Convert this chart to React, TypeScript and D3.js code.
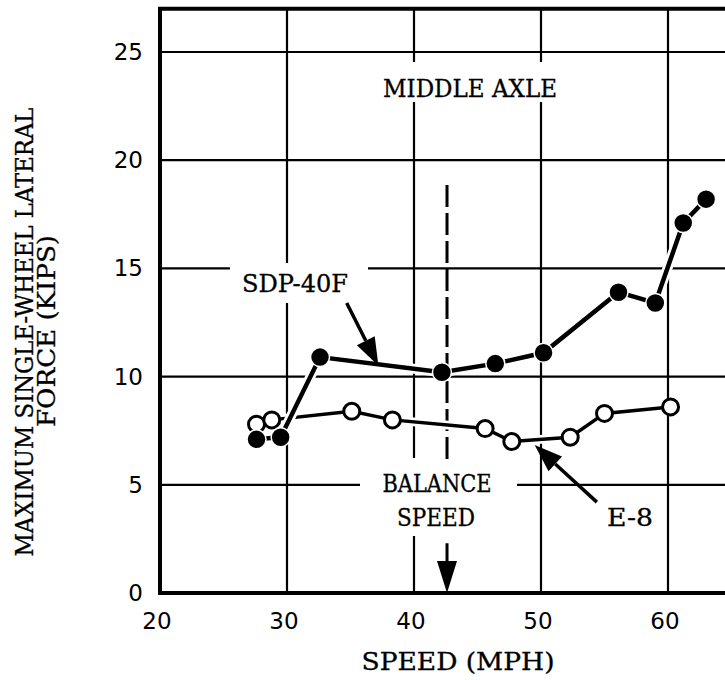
import React from 'react'
import * as d3 from 'd3'

// speed (mph) / max lateral force (kips)
const sdpSpeed = [27.6, 29.5, 32.6, 42.2, 46.4, 50.2, 56.1, 59.0, 61.2, 63.0]
const sdpForce = [7.1, 7.2, 10.9, 10.2, 10.6, 11.1, 13.9, 13.4, 17.1, 18.2]
const e8Speed = [27.6, 28.8, 35.1, 38.3, 45.6, 47.7, 52.3, 55.0, 60.2]
const e8Force = [7.8, 8.0, 8.4, 8.0, 7.6, 7.0, 7.2, 8.3, 8.6]
const xTicks = [20, 30, 40, 50, 60]
const yTicks = [0, 5, 10, 15, 20, 25]
const xGrid = [30, 40, 50, 60]
const yGrid = [5, 10, 15, 20, 25]
const balanceSpeed = 42.6

const W = 725
const H = 680
const SERIF = '"DejaVu Serif Condensed", "DejaVu Serif", serif'
const SANS = '"DejaVu Sans", sans-serif'

const x = d3.scaleLinear().domain([20, 60]).range([160, 668])
const y = d3.scaleLinear().domain([0, 25]).range([593, 52])
const xMax = 65
const yMax = 27

type Pt = [number, number]

function Arrow ({ from, to, width, head, half }: { from: Pt, to: Pt, width: number, head: number, half: number }) {
  const x1 = x(from[0]), y1 = y(from[1])
  const x2 = x(to[0]), y2 = y(to[1])
  const ang = Math.atan2(y2 - y1, x2 - x1)
  const bx = x2 - head * Math.cos(ang)
  const by = y2 - head * Math.sin(ang)
  const px = -Math.sin(ang) * half
  const py = Math.cos(ang) * half
  return (
    <g>
      <line x1={x1} y1={y1} x2={bx} y2={by} stroke="#000" strokeWidth={width} />
      <path d={`M${x2},${y2}L${bx + px},${by + py}L${bx - px},${by - py}Z`} fill="#000" />
    </g>
  )
}

// typewriter-ish label, stretched to the width it has in the picture
function Label ({ cx, cy, len, children, rotate, size = 25 }: { cx: number, cy: number, len: number, children: string, rotate?: boolean, size?: number }) {
  return (
    <text transform={`translate(${cx},${cy})${rotate ? ' rotate(-90)' : ''}`} fontSize={size}
      stroke="#000" strokeWidth={0.3}
      textAnchor="middle" dominantBaseline="central" textLength={len} lengthAdjust="spacingAndGlyphs">
      {children}
    </text>
  )
}

export default function App () {
  const sdp: Pt[] = sdpSpeed.map((s, i) => [s, sdpForce[i]])
  const e8: Pt[] = e8Speed.map((s, i) => [s, e8Force[i]])
  const line = d3.line<Pt>().x(d => x(d[0])).y(d => y(d[1]))

  const left = x(20), right = x(xMax), top = y(yMax), bottom = y(0)

  return (
    <svg width={W} height={H} style={{ position: 'absolute', left: 0, top: 0, background: '#fff' }}>
      <rect width={W} height={H} fill="#fff" />
      {/* grid */}
      {xGrid.map(v => (
        <line key={'gx' + v} x1={x(v)} x2={x(v)} y1={top} y2={bottom} stroke="#000" strokeWidth={2.2} />
      ))}
      {yGrid.map(v => (
        <line key={'gy' + v} x1={left} x2={right} y1={y(v)} y2={y(v)} stroke="#000" strokeWidth={2.2} />
      ))}

      {/* label knockouts */}
      <rect x={376} y={62} width={188} height={40} fill="#fff" />
      <rect x={230} y={263} width={138} height={40} fill="#fff" />
      <rect x={360} y={458} width={157} height={78} fill="#fff" />

      {/* balance speed */}
      <line x1={x(balanceSpeed)} x2={x(balanceSpeed)} y1={y(18.85)} y2={y(6.15)}
        stroke="#000" strokeWidth={3} strokeDasharray="22 6" />
      <Arrow from={[balanceSpeed, 2.3]} to={[balanceSpeed, 0]} width={3} head={32} half={10} />

      {/* E-8 */}
      <path d={line(e8) ?? ''} fill="none" stroke="#fff" strokeWidth={9} />
      <path d={line(e8) ?? ''} fill="none" stroke="#000" strokeWidth={3.5} />
      {/* SDP-40F */}
      <path d={line(sdp) ?? ''} fill="none" stroke="#fff" strokeWidth={10} />
      <path d={line(sdp) ?? ''} fill="none" stroke="#000" strokeWidth={4.5} />
      {e8.map((d, i) => (
        <circle key={'e' + i} cx={x(d[0])} cy={y(d[1])} r={8} fill="#fff" stroke="#000" strokeWidth={3} />
      ))}
      {sdp.map((d, i) => (
        <circle key={'s' + i} cx={x(d[0])} cy={y(d[1])} r={9.5} fill="#000" stroke="#fff" strokeWidth={1.5} />
      ))}

      {/* annotation arrows */}
      <Arrow from={[34.7, 13.4]} to={[37.2, 10.5]} width={3.5} head={28} half={10} />
      <Arrow from={[54.4, 4.2]} to={[49.5, 6.84]} width={3.5} head={28} half={10} />

      {/* frame */}
      <path d={`M${left},${bottom}V${top}H${right}`} fill="none" stroke="#000" strokeWidth={4} />
      <line x1={left - 2} x2={right} y1={bottom} y2={bottom} stroke="#000" strokeWidth={4} />

      <g fontFamily={SERIF} fill="#000">
        <Label cx={470} cy={88} len={174}>MIDDLE AXLE</Label>
        <Label cx={295} cy={283} len={106}>SDP-40F</Label>
        <Label cx={437} cy={483} len={109}>BALANCE</Label>
        <Label cx={436} cy={517} len={78}>SPEED</Label>
        <Label cx={630} cy={517} len={46}>E-8</Label>
        <Label cx={458} cy={662} len={193} size={24}>SPEED (MPH)</Label>
        <Label cx={24} cy={332} len={449} rotate>MAXIMUM SINGLE-WHEEL LATERAL</Label>
        <Label cx={46} cy={331} len={192} rotate>FORCE (KIPS)</Label>
      </g>
      <g fontFamily={SANS} fill="#000" fontSize={23}>
        {yTicks.map(v => (
          <text key={'ty' + v} x={143} y={y(v)} textAnchor="end" dominantBaseline="central">{v}</text>
        ))}
        {xTicks.map(v => (
          <text key={'tx' + v} x={x(v) - 3} y={621} textAnchor="middle" dominantBaseline="central">{v}</text>
        ))}
      </g>
    </svg>
  )
}
